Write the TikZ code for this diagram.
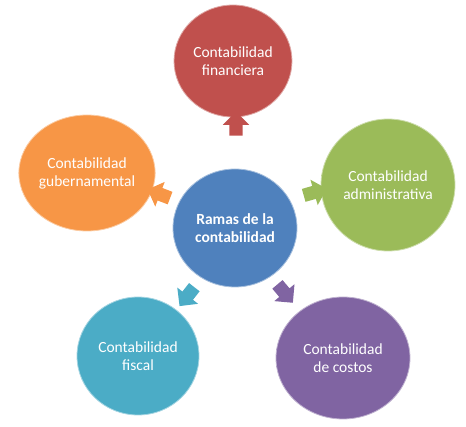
\documentclass[tikz,border=0pt]{standalone}
\usepackage{fontspec}
\setmainfont{Carlito}
\usetikzlibrary{shapes.geometric,shapes.arrows}
\definecolor{cred}{HTML}{C0504D}
\definecolor{cgreen}{HTML}{9BBB59}
\definecolor{corange}{HTML}{F79646}
\definecolor{cblue}{HTML}{4F81BD}
\definecolor{ccyan}{HTML}{4BACC6}
\definecolor{cpurple}{HTML}{8064A2}
\colorlet{ballin}{red}
\colorlet{ballout}{black}
\pgfdeclareradialshading[ballin,ballout]{softball}{\pgfpoint{0bp}{6bp}}{color(0bp)=(ballin); color(28bp)=(ballin); color(49bp)=(ballout); color(70bp)=(ballout)}
\tikzset{
  ball/.style={ellipse, inner sep=0pt, text=white, align=center,
    font=\fontsize{15.5}{18}\selectfont,
    /utils/exec={\colorlet{ballin}{#1}\colorlet{ballout}{#1!78!black}},
    shading=softball, draw=#1!50!white, line width=0.8pt},
  arr/.style={single arrow, draw=none, fill=#1, inner xsep=0pt, inner ysep=6.5pt,
    minimum height=24pt, single arrow head extend=6.5pt},
}
\begin{document}
\begin{tikzpicture}[x=1pt,y=-1pt]
\useasboundingbox (0,0) rectangle (466,427);
\node[ball=cblue, minimum width=124pt, minimum height=118pt, font=\fontsize{15.5}{18}\selectfont\bfseries] (c) at (235,228) {Ramas de la\\contabilidad};
\node[ball=cred, minimum width=118pt, minimum height=112pt] (t) at (233,61) {Contabilidad\\financiera};
\node[ball=cgreen, minimum width=134pt, minimum height=132pt] (r) at (388,185) {Contabilidad\\administrativa};
\node[ball=corange, minimum width=134pt, minimum height=116pt] (l) at (87,173) {Contabilidad\\gubernamental};
\node[ball=ccyan, minimum width=122pt, minimum height=118pt] (bl) at (138,356) {Contabilidad\\fiscal};
\node[ball=cpurple, minimum width=134pt, minimum height=122pt] (br) at (343,358) {Contabilidad\\de costos};
\node[arr=cred, rotate=90] (at) at (236,127) {};
\node[arr=cgreen, rotate=16] (ar) at (312,193) {};
\node[arr=corange, rotate=159] (al) at (162,195) {};
\node[arr=ccyan, rotate=232] (abl) at (189,294) {};
\node[arr=cpurple, rotate=310] (abr) at (283,291) {};
\end{tikzpicture}
\end{document}
